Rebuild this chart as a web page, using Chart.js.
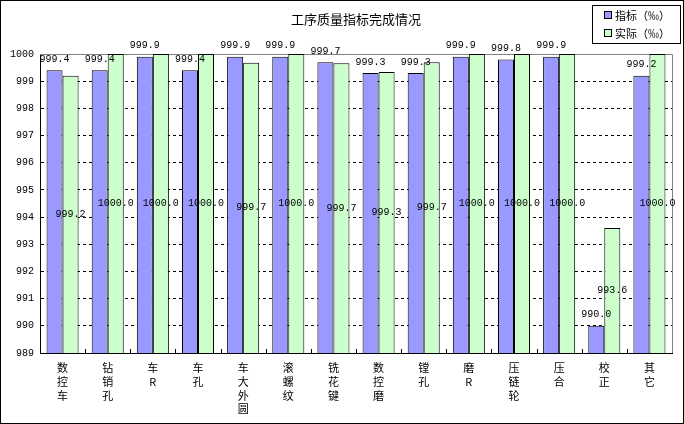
<!DOCTYPE html>
<html lang="zh">
<head>
  <meta charset="UTF-8" />
  <title>工序质量指标完成情况</title>
  <style>
    html, body { margin: 0; padding: 0; background: #fff; }
    #wrap { width: 684px; height: 424px; }
  </style>
</head>
<body>
  <div id="wrap"><canvas id="qualityChart" width="684" height="424"></canvas></div>

  <script src="https://cdn.jsdelivr.net/npm/chart.js"></script>
  <script>
    // data
    const categories = ['数控车', '钻销孔', '车R', '车孔', '车大外圆', '滚螺纹', '铣花键', '数控磨', '镗孔', '磨R', '压链轮', '压合', '校正', '其它'];
    const targetValues = [999.4, 999.4, 999.9, 999.4, 999.9, 999.9, 999.7, 999.3, 999.3, 999.9, 999.8, 999.9, 990.0, 999.2];
    const actualValues = [999.2, 1000.0, 1000.0, 1000.0, 999.68, 1000.0, 999.66, 999.34, 999.7, 1000.0, 1000.0, 1000.0, 993.6, 1000.0];
    const seriesNames = ['指标（‰）', '实际（‰）'];
    const yTicks = [989, 990, 991, 992, 993, 994, 995, 996, 997, 998, 999, 1000];

    const cjkFont = '"Noto Sans CJK SC", "DejaVu Sans", sans-serif';
    const numFont = '"Liberation Mono", "DejaVu Sans Mono", monospace';

    // labels, frame, title and legend drawn on the canvas
    const decorations = {
      id: 'decorations',
      beforeDatasetsDraw(chart) {
        const { ctx, chartArea: a } = chart;
        ctx.save();
        ctx.strokeStyle = '#808080';
        ctx.lineWidth = 1;
        ctx.beginPath();
        ctx.moveTo(a.left, Math.round(a.top) + 0.5);
        ctx.lineTo(Math.round(a.right) + 0.5, Math.round(a.top) + 0.5);
        ctx.lineTo(Math.round(a.right) + 0.5, a.bottom);
        ctx.stroke();
        ctx.restore();
      },
      afterDatasetsDraw(chart) {
        const { ctx, chartArea: a } = chart;
        const xScale = chart.scales.x;
        const yScale = chart.scales.y;
        ctx.save();

        // small ticks between categories, pointing into the plot
        const step = (a.right - a.left) / categories.length;
        ctx.strokeStyle = '#000';
        ctx.lineWidth = 1;
        ctx.beginPath();
        for (let i = 1; i < categories.length; i++) {
          const x = Math.round(xScale.getPixelForValue(i) - step / 2) + 0.5;
          ctx.moveTo(x, a.bottom);
          ctx.lineTo(x, a.bottom - 4);
        }
        ctx.stroke();

        // value labels
        ctx.fillStyle = '#000';
        ctx.font = '10px ' + numFont;
        ctx.textAlign = 'center';
        ctx.textBaseline = 'middle';
        const basePx = yScale.getPixelForValue(yScale.min);
        const targetBars = chart.getDatasetMeta(0).data;
        const actualBars = chart.getDatasetMeta(1).data;
        targetValues.forEach((v, i) => {
          const top = yScale.getPixelForValue(v);
          ctx.fillText(v.toFixed(1), targetBars[i].x, top - 11);
        });
        actualValues.forEach((v, i) => {
          const top = yScale.getPixelForValue(v);
          ctx.fillText(v.toFixed(1), actualBars[i].x, (top + basePx) / 2);
        });
        ctx.restore();
      },
      afterDraw(chart) {
        const { ctx, chartArea: a, width, height } = chart;
        ctx.save();

        // title
        ctx.fillStyle = '#000';
        ctx.font = '13px ' + cjkFont;
        ctx.textAlign = 'center';
        ctx.textBaseline = 'middle';
        ctx.fillText('工序质量指标完成情况', (a.left + a.right) / 2, 19);

        // legend box
        ctx.strokeStyle = '#000';
        ctx.lineWidth = 1;
        ctx.strokeRect(592.5, 5.5, 88, 38);
        ctx.font = '11px ' + cjkFont;
        ctx.textAlign = 'left';
        chart.data.datasets.forEach((ds, i) => {
          const cy = 15 + i * 18;
          ctx.fillStyle = ds.backgroundColor;
          ctx.fillRect(605, cy - 3, 6, 6);
          ctx.strokeRect(604.5, cy - 3.5, 7, 7);
          ctx.fillStyle = '#000';
          ctx.fillText(ds.label, 615, cy + 0.5);
        });

        // outer frame
        ctx.strokeRect(0.5, 0.5, width - 1, height - 1);
        ctx.restore();
      }
    };

    new Chart(document.getElementById('qualityChart'), {
      type: 'bar',
      data: {
        labels: categories.map(name => name.split('')),
        datasets: [
          {
            label: seriesNames[0],
            data: targetValues,
            backgroundColor: '#9999FF',
            borderColor: '#000',
            borderWidth: 1,
            borderSkipped: false
          },
          {
            label: seriesNames[1],
            data: actualValues,
            backgroundColor: '#CCFFCC',
            borderColor: '#000',
            borderWidth: 1,
            borderSkipped: false
          }
        ]
      },
      options: {
        responsive: false,
        animation: false,
        devicePixelRatio: 1,
        layout: { padding: { top: 54, right: 12, left: 0, bottom: 0 } },
        datasets: {
          bar: { categoryPercentage: 0.71, barPercentage: 1.0 }
        },
        plugins: {
          legend: { display: false },
          title: { display: false },
          tooltip: { enabled: false }
        },
        scales: {
          x: {
            grid: { display: false, drawTicks: false },
            border: { display: true, color: '#000', width: 1 },
            ticks: {
              color: '#000',
              font: { family: cjkFont, size: 11, lineHeight: 1.25 },
              padding: 8,
              maxRotation: 0,
              autoSkip: false
            },
            afterFit(scale) { scale.height = 71; }
          },
          y: {
            min: 989,
            max: 1000,
            afterBuildTicks(scale) { scale.ticks = yTicks.map(v => ({ value: v })); },
            grid: {
              drawTicks: false,
              color: c => (c.tick && (c.tick.value === 989 || c.tick.value === 1000)) ? 'rgba(0,0,0,0)' : '#000',
              lineWidth: 1
            },
            border: { display: true, color: '#000', width: 1, dash: [3, 3] },
            ticks: {
              color: '#000',
              font: { family: numFont, size: 10 },
              padding: 6,
              callback: v => String(v)
            },
            afterFit(scale) { scale.width = 40; }
          }
        }
      },
      plugins: [decorations]
    });
  </script>
</body>
</html>
